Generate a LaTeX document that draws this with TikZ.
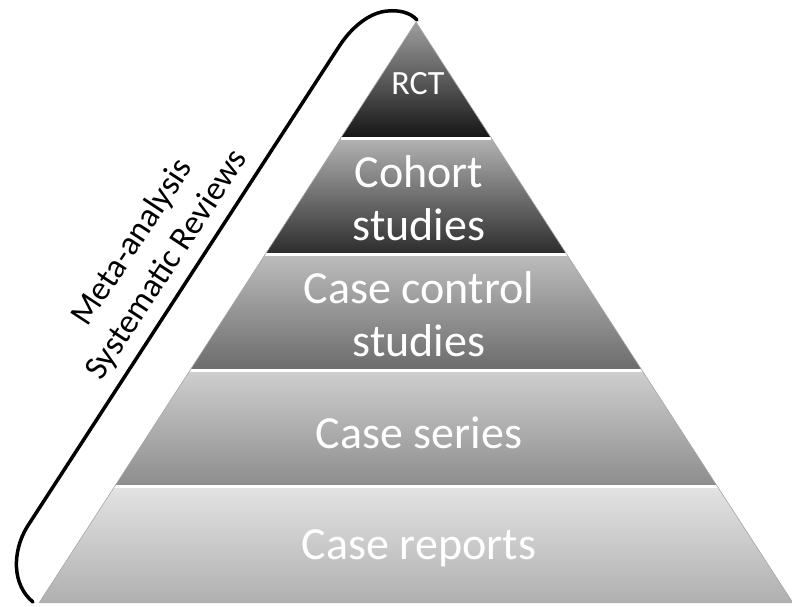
\documentclass[tikz,border=0pt]{standalone}
\usepackage{fontspec}
\newfontfamily\pyrfont{Carlito}
\usetikzlibrary{calc}

\begin{document}
\begin{tikzpicture}[x=1pt,y=-1pt,
  sep/.style={white,line width=3pt},
  level/.style={text=white,align=center,font=\pyrfont\fontsize{46}{53}\selectfont},
  small/.style={font=\pyrfont\fontsize{34}{41}\selectfont},
  brace/.style={line width=3.5pt,line cap=round}]
\useasboundingbox (0,0) rectangle (792,606);
% corners of the pyramid
\coordinate (apex) at (416,22);
\coordinate (bl) at (39,603);
\coordinate (br) at (793,603);
% five levels, darker towards the top
\foreach \i/\j/\ct/\cb in {0/0.2/38/92, 0.2/0.4/30/83, 0.4/0.6/26/58, 0.6/0.8/19/45, 0.8/1/11/31}
  \shade[top color=black!\ct,bottom color=black!\cb]
    ($(apex)!\i!(bl)$) -- ($(apex)!\j!(bl)$) -- ($(apex)!\j!(br)$) -- ($(apex)!\i!(br)$) -- cycle;
\foreach \t in {0.2,0.4,0.6,0.8}
  \draw[sep] ($(apex)!\t!(bl)$) -- ($(apex)!\t!(br)$);
\draw[black!35,line width=0.6pt] (bl) -- (apex) -- (br);
% level names
\node[level,small] (rct) at (418,84) {RCT};
\node[level] (cohort) at (419,198) {Cohort\\studies};
\node[level] (casecontrol) at (419,314) {Case control\\studies};
\node[level] (series) at (419,433) {Case series};
\node[level] (reports) at (419,548) {Case reports};
% bracket along the left side
\draw[brace] (417,20) .. controls (410,12) and (398,10) .. (388,11)
  .. controls (370,12) and (352,27) .. (340,45) -- (27,527)
  .. controls (12,552) and (12,585) .. (33,602);
\node[small,rotate=56.7,align=center] (reviews) at (150,254) {Meta-analysis\\Systematic Reviews};
\end{tikzpicture}
\end{document}
